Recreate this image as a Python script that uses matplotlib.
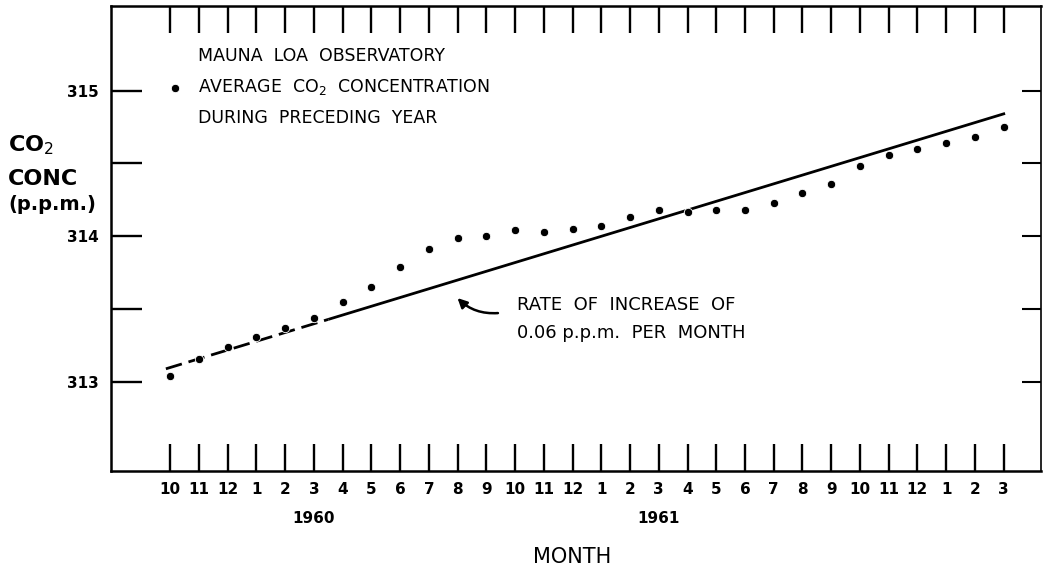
import matplotlib
matplotlib.use("Agg")
import matplotlib.pyplot as plt
import numpy as np

# monthly positions, Oct 1959 .. Mar 1962
month_labels = ["10", "11", "12", "1", "2", "3", "4", "5", "6", "7", "8", "9",
                "10", "11", "12", "1", "2", "3", "4", "5", "6", "7", "8", "9",
                "10", "11", "12", "1", "2", "3"]
year_labels = ["1960", "1961"]
year_pos = [5, 17]

# running 12-month mean CO2 (ppm)
co2_avg = [313.04, 313.16, 313.24, 313.31, 313.37, 313.44, 313.55, 313.65,
           313.79, 313.91, 313.99, 314.00, 314.04, 314.03, 314.05, 314.07,
           314.13, 314.18, 314.17, 314.18, 314.18, 314.23, 314.30, 314.36,
           314.48, 314.56, 314.60, 314.64, 314.68, 314.75]

# trend line: 0.06 ppm per month
rate = 0.06
trend_start = 313.1
trend_dash_x = [-0.15, 5.5]
trend_solid_x = [5.5, 29.05]

W, H = 1046, 571
fig = plt.figure(figsize=(W / 100, H / 100), dpi=100)
ax = fig.add_axes([111 / W, (H - 471) / H, (1041 - 111) / W, (471 - 6) / H])

x = np.arange(len(month_labels))
ax.set_xlim(-2.06, 30.3)
ax.set_ylim(312.39, 315.58)

for s in ax.spines.values():
    s.set_linewidth(1.8)
ax.spines["right"].set_linewidth(1.2)

ax.set_xticks(x)
ax.set_xticklabels(month_labels, fontsize=11, fontweight="bold")
ax.tick_params(axis="x", direction="in", length=19.5, width=1.7, top=True,
               labeltop=False, pad=8)
ax.set_yticks([313, 313.5, 314, 314.5, 315])
ax.set_yticklabels(["313", "", "314", "", "315"], fontsize=11, fontweight="bold")
ax.tick_params(axis="y", direction="in", length=22, width=1.7, pad=9)

# right-hand ticks are shorter
ax2 = ax.twinx()
ax2.set_ylim(ax.get_ylim())
ax2.set_yticks([313, 313.5, 314, 314.5, 315])
ax2.set_yticklabels([])
ax2.tick_params(axis="y", direction="in", length=14, width=1.5)
for s in ax2.spines.values():
    s.set_visible(False)

# trend line
dx = np.array(trend_dash_x)
sx = np.array(trend_solid_x)
ax.plot(dx, trend_start + rate * dx, color="black", lw=2.0, dashes=(6, 2.5))
ax.plot(sx, trend_start + rate * sx, color="black", lw=2.0,
        solid_capstyle="butt")

# data points
pts, = ax.plot(x, co2_avg, "o", color="black", ms=6, mec="white", mew=0.6,
               zorder=3)

leg = ax.legend([pts],
                ["MAUNA  LOA  OBSERVATORY\nAVERAGE  CO$_2$  CONCENTRATION\nDURING  PRECEDING  YEAR"],
                loc="upper left", bbox_to_anchor=(0.0635, 0.912), frameon=False,
                handlelength=0.6, handletextpad=1.0, borderaxespad=0,
                borderpad=0, prop={"size": 12.5})
for t in leg.get_texts():
    t.set_linespacing(1.83)

# rate annotation
ax.annotate("", xy=(9.93, 313.59), xytext=(11.5, 313.475),
            arrowprops=dict(arrowstyle="-|>", color="black", lw=1.8,
                            mutation_scale=14,
                            connectionstyle="arc3,rad=-0.25"))
ax.text(12.05, 313.435, "RATE  OF  INCREASE  OF\n0.06 p.p.m.  PER  MONTH",
        fontsize=13, va="center", ha="left", linespacing=1.7)

# year labels and axis title under the month ticks
for yr, p in zip(year_labels, year_pos):
    ax.text(p, -0.103, yr, transform=ax.get_xaxis_transform(), ha="center",
            va="center", fontsize=11, fontweight="bold")
fig.text(572 / W, 1 - 557 / H, "MONTH", ha="center", va="center", fontsize=15)

# y-axis title
fig.text(8 / W, 1 - 145 / H, "CO$_2$", ha="left", va="center", fontsize=16,
         fontweight="bold")
fig.text(8 / W, 1 - 179 / H, "CONC", ha="left", va="center", fontsize=16,
         fontweight="bold")
fig.text(8 / W, 1 - 204 / H, "(p.p.m.)", ha="left", va="center", fontsize=14,
         fontweight="bold")

fig.savefig("out.png", dpi=100)
